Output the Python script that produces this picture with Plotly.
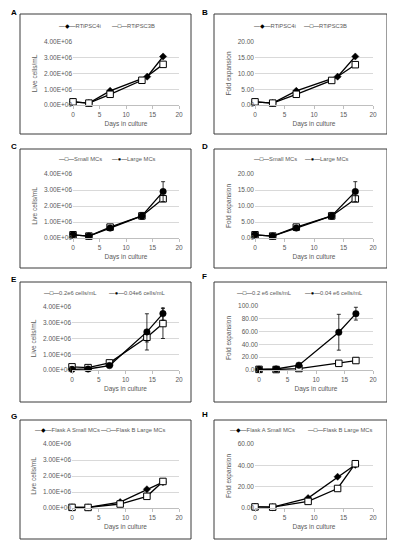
import plotly.graph_objects as go

# ---------------- data ----------------
# A / B : two cell lines
days_4i = [0, 3, 7, 14, 17]
days_3b = [0, 3, 7, 13, 17]
cells_4i = [0.20e6, 0.12e6, 0.90e6, 1.80e6, 3.08e6]
cells_3b = [0.20e6, 0.12e6, 0.68e6, 1.57e6, 2.58e6]
fold_4i = [1.0, 0.6, 4.5, 9.0, 15.4]
fold_3b = [1.0, 0.6, 3.4, 7.8, 12.8]

# C / D : microcarrier size
days_mc = [0, 3, 7, 13, 17]
cells_small = [0.20e6, 0.12e6, 0.68e6, 1.38e6, 2.45e6]
cells_small_err = [0.02e6, 0.02e6, 0.08e6, 0.22e6, 0.15e6]
cells_large = [0.20e6, 0.12e6, 0.62e6, 1.38e6, 2.90e6]
cells_large_err = [0.02e6, 0.02e6, 0.05e6, 0.15e6, 0.62e6]
fold_small = [1.0, 0.6, 3.4, 6.9, 12.2]
fold_small_err = [0.1, 0.1, 0.4, 1.1, 0.7]
fold_large = [1.0, 0.6, 3.1, 6.9, 14.5]
fold_large_err = [0.1, 0.1, 0.3, 0.8, 3.1]

# E / F : seeding density
days_sd = [0, 3, 7, 14, 17]
cells_02 = [0.20e6, 0.15e6, 0.45e6, 2.08e6, 2.95e6]
cells_02_err = [0.03e6, 0.03e6, 0.05e6, 0.30e6, 0.95e6]
cells_004 = [0.04e6, 0.065e6, 0.28e6, 2.42e6, 3.58e6]
cells_004_err = [0.01e6, 0.02e6, 0.05e6, 1.15e6, 0.42e6]
fold_02 = [1.0, 0.75, 2.3, 10.4, 14.8]
fold_02_err = [0.1, 0.1, 0.3, 1.5, 3.5]
fold_004 = [1.0, 1.6, 7.5, 59.0, 88.0]
fold_004_err = [0.1, 0.5, 1.5, 28.0, 10.0]

# G / H : flasks
days_fl = [0, 3, 9, 14, 17]
cells_flA = [0.04e6, 0.035e6, 0.37e6, 1.17e6, 1.62e6]
cells_flB = [0.04e6, 0.035e6, 0.25e6, 0.73e6, 1.66e6]
fold_flA = [1.0, 0.8, 9.3, 29.3, 40.5]
fold_flB = [1.0, 0.8, 6.2, 18.3, 41.5]

# tick labels
x_ticks = [0, 5, 10, 15, 20]
cells_tickvals = [0, 1e6, 2e6, 3e6, 4e6]
cells_ticktext = ["0.00E+00", "1.00E+06", "2.00E+06", "3.00E+06", "4.00E+06"]

# ---------------- layout helpers ----------------
OFF = 8                      # default page margin of the html body
W, H = 395 - OFF, 550 - OFF
FONT = "Liberation Sans, Arial, sans-serif"
GREY = "#595959"


def px(x):
    return (x - OFF) / W


def py(y):
    return 1 - (y - OFF) / H


FILLED = "filled"
OPEN = "open"

panels = [
    dict(letter="A", lab=(8.6, 12), box=(20, 14, 191, 134), plot=(73, 42, 179, 105),
         ytitle="Live cells/mL", yrange=4e6, ydt=1e6, cells=True,
         series=[(FILLED, "RTiPSC4i", days_4i, cells_4i, None, "diamond"),
                 (OPEN, "RTiPSC3B", days_3b, cells_3b, None, "square")],
         leg=[(57, 26), (110, 26)]),
    dict(letter="B", lab=(200, 12), box=(214, 14, 387, 134), plot=(255, 42, 373, 105),
         ytitle="Fold expansion", yrange=20, ydt=5, cells=False,
         series=[(FILLED, "RTiPSC4i", days_4i, fold_4i, None, "diamond"),
                 (OPEN, "RTiPSC3B", days_3b, fold_3b, None, "square")],
         leg=[(252, 26), (302, 26)]),
    dict(letter="C", lab=(8.6, 147), box=(20, 149, 191, 268), plot=(73, 174, 179, 238),
         ytitle="Live cells/mL", yrange=4e6, ydt=1e6, cells=True,
         series=[(OPEN, "Small MCs", days_mc, cells_small, cells_small_err, "square"),
                 (FILLED, "Large MCs", days_mc, cells_large, cells_large_err, "circle")],
         leg=[(57, 159), (110, 159)]),
    dict(letter="D", lab=(200, 146), box=(214, 149, 387, 268), plot=(255, 174, 373, 238),
         ytitle="Fold expansion", yrange=20, ydt=5, cells=False,
         series=[(OPEN, "Small MCs", days_mc, fold_small, fold_small_err, "square"),
                 (FILLED, "Large MCs", days_mc, fold_large, fold_large_err, "circle")],
         leg=[(252, 159), (303, 159)]),
    dict(letter="E", lab=(8.6, 279), box=(20, 282, 191, 402), plot=(72, 307, 179, 370),
         ytitle="Live cells/mL", yrange=4e6, ydt=1e6, cells=True,
         series=[(OPEN, "0.2e6 cells/mL", days_sd, cells_02, cells_02_err, "square"),
                 (FILLED, "0.04e6 cells/mL", days_sd, cells_004, cells_004_err, "circle")],
         leg=[(42, 293), (107, 293)]),
    dict(letter="F", lab=(200, 276), box=(214, 282, 387, 402), plot=(259, 306, 373, 370),
         ytitle="Fold expansion", yrange=100, ydt=20, cells=False,
         series=[(OPEN, "0.2 e6 cells/mL", days_sd, fold_02, fold_02_err, "square"),
                 (FILLED, "0.04 e6 cells/mL", days_sd, fold_004, fold_004_err, "circle")],
         leg=[(235, 293), (303, 293)]),
    dict(letter="G", lab=(8.6, 416), box=(20, 420, 191, 539), plot=(72, 444, 179, 508),
         ytitle="Live cells/mL", yrange=4e6, ydt=1e6, cells=True,
         series=[(FILLED, "Flask A Small MCs", days_fl, cells_flA, None, "diamond"),
                 (OPEN, "Flask B Large MCs", days_fl, cells_flB, None, "square")],
         leg=[(33, 430), (99, 430)]),
    dict(letter="H", lab=(200, 414), box=(214, 420, 387, 539), plot=(255, 444, 373, 508),
         ytitle="Fold expansion", yrange=60, ydt=20, cells=False,
         series=[(FILLED, "Flask A Small MCs", days_fl, fold_flA, None, "diamond"),
                 (OPEN, "Flask B Large MCs", days_fl, fold_flB, None, "square")],
         leg=[(228, 430), (306, 430)]),
]

fig = go.Figure()
shapes = []
annotations = []
layout_axes = {}

for i, p in enumerate(panels):
    n = "" if i == 0 else str(i + 1)
    xref, yref = "x" + n, "y" + n
    x0, yt, x1, yb = p["plot"]

    for kind, name, xs, ys, err, sym in p["series"]:
        if kind == FILLED:
            size = 6.5 if sym == "circle" else 5.5
            marker = dict(symbol=sym, size=size, color="black",
                          line=dict(color="black", width=0.5))
        else:
            marker = dict(symbol=sym, size=6.5, color="white",
                          line=dict(color="black", width=1))
        tr = dict(x=xs, y=ys, mode="lines+markers", name=name,
                  line=dict(color="black", width=1.3), marker=marker,
                  xaxis=xref, yaxis=yref, showlegend=False, cliponaxis=False)
        if err is not None:
            tr["error_y"] = dict(type="data", array=err, visible=True,
                                 color="black", thickness=0.8, width=2)
        fig.add_trace(go.Scatter(**tr))

    xa = dict(domain=[px(x0), px(x1)], anchor=yref, range=[0, 20],
              tickvals=x_ticks, showgrid=False, zeroline=False,
              showline=True, linecolor="#bfbfbf", linewidth=1,
              ticks="outside", ticklen=3, tickcolor="#bfbfbf",
              tickfont=dict(size=6.5, color=GREY, family=FONT),
              title=dict(text="Days in culture", standoff=4,
                         font=dict(size=6.5, color=GREY, family=FONT)),
              fixedrange=True, automargin=False)
    ya = dict(domain=[py(yb), py(yt)], anchor=xref, range=[0, p["yrange"]],
              showgrid=True, gridcolor="#d9d9d9", gridwidth=1, zeroline=False,
              showline=False, ticks="",
              tickfont=dict(size=6.5, color=GREY, family=FONT),
              title=dict(text=p["ytitle"], standoff=5,
                         font=dict(size=6.5, color=GREY, family=FONT)),
              fixedrange=True, automargin=False)
    if p["cells"]:
        ya["tickvals"] = cells_tickvals
        ya["ticktext"] = cells_ticktext
    else:
        ya["dtick"] = p["ydt"]
        ya["tick0"] = 0
        ya["tickformat"] = ".2f"
    layout_axes["xaxis" + n] = xa
    layout_axes["yaxis" + n] = ya

    bx0, by0, bx1, by1 = p["box"]
    shapes.append(dict(type="rect", xref="paper", yref="paper",
                       x0=px(bx0), x1=px(bx1), y0=py(by1), y1=py(by0),
                       line=dict(color="#3a3a3a", width=1), layer="above"))
    lx, ly = p["lab"]
    annotations.append(dict(text="<b>%s</b>" % p["letter"], x=px(lx), y=py(ly),
                            xref="paper", yref="paper", showarrow=False,
                            xanchor="left", yanchor="middle",
                            font=dict(size=8, color="black", family=FONT)))
    # legend entries (line-marker key followed by series name)
    for (kind, name, xs, ys, err, sym), (ex, ey) in zip(p["series"], p["leg"]):
        if kind == FILLED:
            glyph = "\u25c6" if sym == "diamond" else "\u25cf"
        else:
            glyph = "\u25a1"
        txt = ('<span style="color:black">\u2014%s\u2014</span>%s' % (glyph, name))
        annotations.append(dict(text=txt, x=px(ex), y=py(ey), xref="paper",
                                yref="paper", showarrow=False, xanchor="left",
                                yanchor="middle",
                                font=dict(size=5.8, color=GREY, family=FONT)))

fig.update_layout(width=W, height=H, autosize=False,
                  margin=dict(l=0, r=0, t=0, b=0),
                  paper_bgcolor="white", plot_bgcolor="white",
                  font=dict(family=FONT, size=6.5, color=GREY),
                  shapes=shapes, annotations=annotations, showlegend=False,
                  **layout_axes)

fig.write_html("out.html", config=dict(displayModeBar=False, staticPlot=True))
